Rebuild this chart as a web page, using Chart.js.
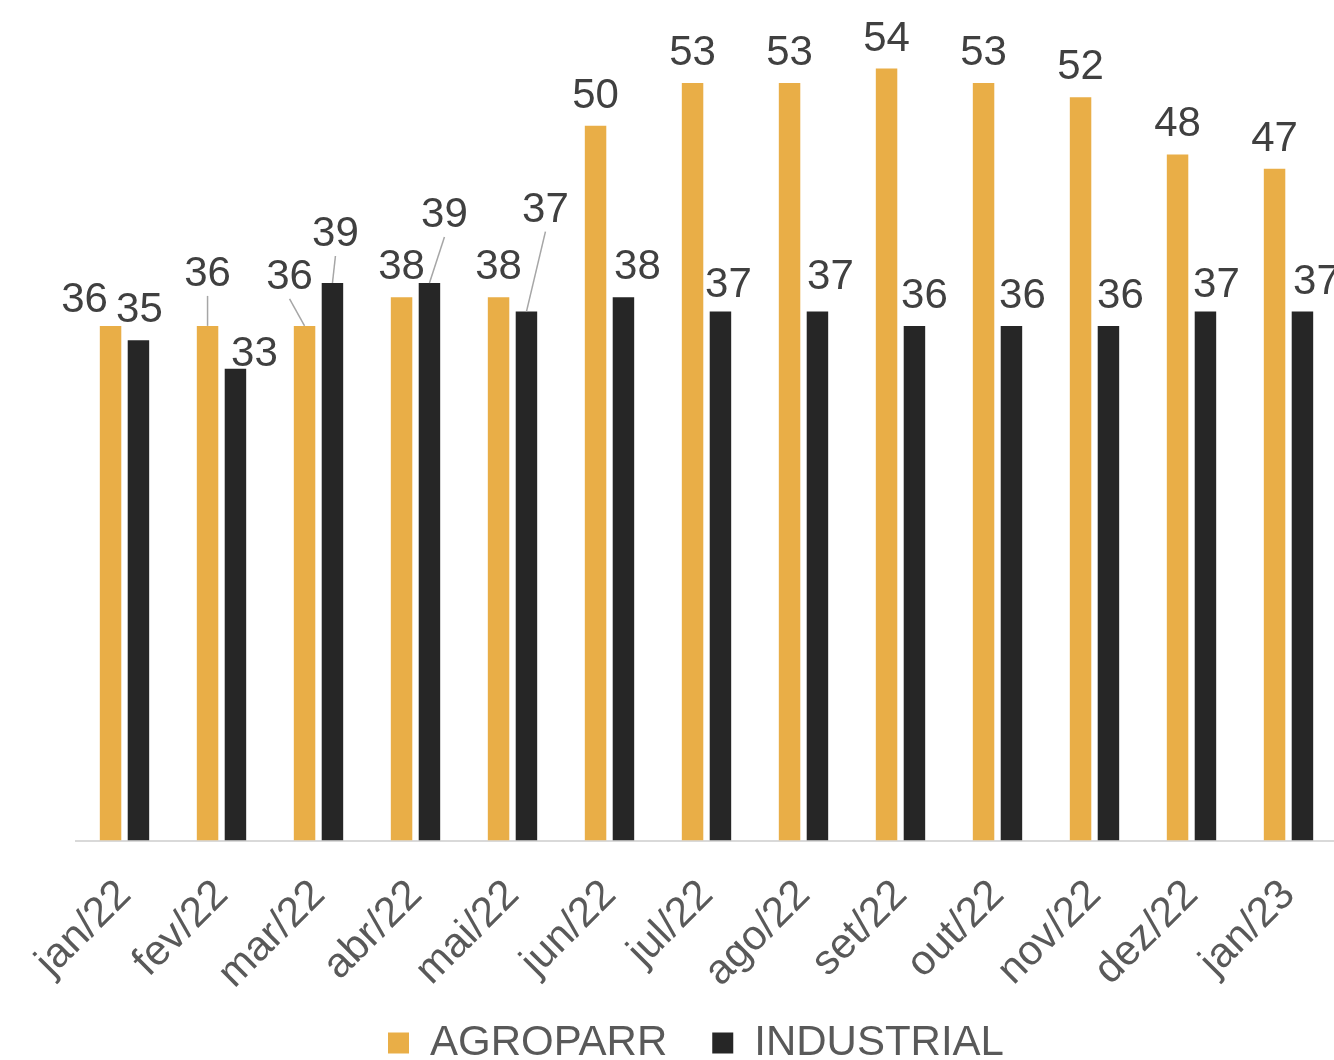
<!DOCTYPE html>
<html>
<head>
<meta charset="utf-8">
<script src="https://cdn.jsdelivr.net/npm/chart.js@4/dist/chart.umd.min.js"></script>
<style>
  html, body { margin: 0; padding: 0; background: #ffffff; overflow: hidden; }
  #wrap { width: 1337px; height: 1060px; }
</style>
</head>
<body>
<div id="wrap"><canvas id="c" width="1337" height="1060"></canvas></div>
<script>
// ---- data ----
const categories = ['jan/22','fev/22','mar/22','abr/22','mai/22','jun/22','jul/22','ago/22','set/22','out/22','nov/22','dez/22','jan/23'];
const agroparr   = [36, 36, 36, 38, 38, 50, 53, 53, 54, 53, 52, 48, 47];
const industrial = [35, 33, 39, 39, 37, 38, 37, 37, 36, 36, 36, 37, 37];
const seriesNames = ['AGROPARR', 'INDUSTRIAL'];

// ---- label placement (style, not data): [dx, dy, leaderLine] ----
const agroLabelShift = [[-26,4,0],[0,-22,1],[-15,-19,1],[0,0,0],[0,0,0],[0,0,0],[0,0,0],[0,0,0],[0,0,0],[0,0,0],[0,0,0],[0,0,0],[0,0,0]];
const indLabelShift  = [[1,0,0],[19,15,0],[3,-19,1],[15,-38,1],[19,-72,1],[14,0,0],[8,3,0],[13,-5,0],[10,0,0],[11,0,0],[12,0,0],[11,3,0],[14,0,0]];

const FONT = '"Liberation Sans", Arial, sans-serif';
const LEGEND_PAD = 45;
const LEGEND_H = 40;

const valueLabels = {
  id: 'valueLabels',
  afterDatasetsDraw(chart) {
    const ctx = chart.ctx;
    const shifts = [agroLabelShift, indLabelShift];
    ctx.save();
    ctx.font = '42px ' + FONT;
    ctx.textAlign = 'center';
    ctx.textBaseline = 'alphabetic';
    chart.data.datasets.forEach((ds, di) => {
      const meta = chart.getDatasetMeta(di);
      meta.data.forEach((bar, i) => {
        const s = shifts[di][i];
        const lx = bar.x + s[0];
        const ly = bar.y - 18 + s[1];
        if (s[2]) {
          ctx.strokeStyle = '#a6a6a6';
          ctx.lineWidth = 1.5;
          ctx.beginPath();
          ctx.moveTo(lx, ly + 10);
          ctx.lineTo(bar.x, bar.y);
          ctx.stroke();
        }
        ctx.fillStyle = '#404040';
        ctx.fillText(String(ds.data[i]), lx, ly);
      });
    });
    ctx.restore();
  }
};

const legendPlace = {
  id: 'legendPlace',
  afterLayout(chart) {
    const lg = chart.legend;
    if (!lg) return;
    lg.left = 388 - LEGEND_PAD;
    lg.top = 1043 - 21 - LEGEND_PAD;
    lg.bottom = chart.height;
    lg.height = lg.bottom - lg.top;
  }
};

new Chart(document.getElementById('c'), {
  type: 'bar',
  data: {
    labels: categories,
    datasets: [
      { label: seriesNames[0], data: agroparr, backgroundColor: '#E9AE47', borderWidth: 0 },
      { label: seriesNames[1], data: industrial, backgroundColor: '#262626', borderWidth: 0 }
    ]
  },
  options: {
    responsive: false,
    animation: false,
    devicePixelRatio: 1,
    layout: { padding: { left: 76, right: 0, top: 0, bottom: 0 } },
    datasets: { bar: { categoryPercentage: 0.575, barPercentage: 0.77 } },
    scales: {
      x: {
        grid: { display: false, drawTicks: false },
        border: { display: true, color: '#d9d9d9', width: 2 },
        ticks: {
          autoSkip: false, minRotation: 45, maxRotation: 45, padding: 30,
          color: '#595959', font: { family: FONT, size: 42 }
        },
        afterFit(scale) {
          const lh = scale.chart.legend ? scale.chart.legend.height : 0;
          scale.height = scale.chart.height - 840.5 - lh;
          scale.paddingLeft = 0;
          scale.paddingRight = 0;
        }
      },
      y: { display: false, min: 0, max: 58.8 }
    },
    plugins: {
      legend: {
        position: 'bottom',
        align: 'start',
        maxHeight: LEGEND_H,
        labels: {
          color: '#595959', font: { family: FONT, size: 42 },
          boxWidth: 21, boxHeight: 21, padding: LEGEND_PAD
        }
      },
      tooltip: { enabled: false }
    }
  },
  plugins: [valueLabels, legendPlace]
});
</script>
</body>
</html>
